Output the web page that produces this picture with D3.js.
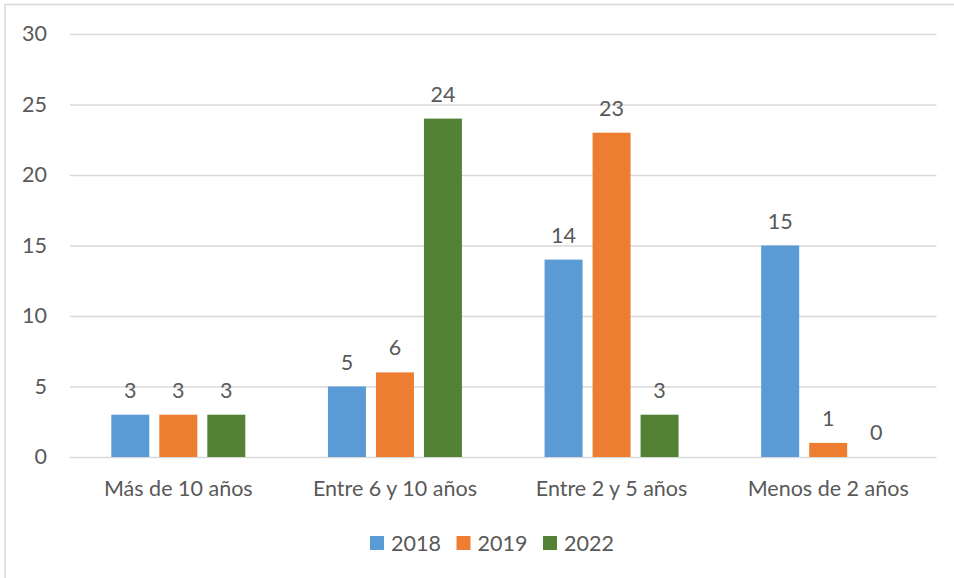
<!DOCTYPE html>
<html>
<head>
<meta charset="utf-8">
<script src="https://cdn.jsdelivr.net/npm/d3@7"></script>
<style>
  body { margin: 0; background: #fff; }
  svg text { font-family: Lato, "Open Sans", sans-serif; fill: #595959; }
</style>
</head>
<body>
<div id="chart"></div>
<script>
const categories = ['Más de 10 años', 'Entre 6 y 10 años', 'Entre 2 y 5 años', 'Menos de 2 años']
const seriesNames = ['2018', '2019', '2022']
const values2018 = [3, 5, 14, 15]
const values2019 = [3, 6, 23, 1]
const values2022 = [3, 24, 3, 0]
const yTicks = [0, 5, 10, 15, 20, 25, 30]
const colors = ['#5B9BD5', '#ED7D31', '#548235']

const seriesValues = [values2018, values2019, values2022]

const width = 954
const height = 578
const fontSize = 21.5

const svg = d3.select('#chart')
  .append('svg')
  .attr('width', width)
  .attr('height', height)

// chart frame
svg.append('rect')
  .attr('x', 5)
  .attr('y', 4.5)
  .attr('width', 960)
  .attr('height', 600)
  .attr('fill', 'none')
  .attr('stroke', '#d9d9d9')
  .attr('stroke-width', 1.5)

const x = d3.scaleBand().domain(categories).range([70, 936.5])
const xInner = d3.scaleBand().domain(seriesNames).range([-67, 67]).paddingInner(10 / 48)
const y = d3.scaleLinear().domain([0, 30]).range([457, 34])

// gridlines + y labels
const yAxis = d3.axisLeft(y)
  .tickValues(yTicks)
  .tickSize(-(936.5 - 70))
  .tickPadding(23)

svg.append('g')
  .attr('transform', 'translate(70,0)')
  .call(yAxis)
  .call(g => g.select('.domain').remove())
  .call(g => g.selectAll('line').attr('stroke', '#d9d9d9').attr('stroke-width', 1.5))
  .call(g => g.selectAll('text')
    .style('font-family', 'Lato, sans-serif')
    .attr('font-size', fontSize)
    .attr('fill', '#595959'))

// x labels
svg.append('g')
  .selectAll('text')
  .data(categories)
  .enter()
  .append('text')
  .attr('x', d => x(d) + x.bandwidth() / 2)
  .attr('y', 496)
  .attr('text-anchor', 'middle')
  .attr('font-size', fontSize)
  .text(d => d)

const rows = []
seriesNames.forEach((s, i) => {
  categories.forEach((c, j) => {
    rows.push({ series: s, category: c, value: seriesValues[i][j], color: colors[i] })
  })
})

const cx = d => x(d.category) + x.bandwidth() / 2 + xInner(d.series)

svg.append('g')
  .selectAll('rect')
  .data(rows)
  .enter()
  .append('rect')
  .attr('x', cx)
  .attr('y', d => y(d.value))
  .attr('width', xInner.bandwidth())
  .attr('height', d => y(0) - y(d.value))
  .attr('fill', d => d.color)

svg.append('g')
  .selectAll('text')
  .data(rows)
  .enter()
  .append('text')
  .attr('x', d => cx(d) + xInner.bandwidth() / 2)
  .attr('y', d => y(d.value) - 17)
  .attr('text-anchor', 'middle')
  .attr('font-size', fontSize)
  .text(d => d.value)

// legend
const legend = svg.append('g')
  .selectAll('g')
  .data(seriesNames)
  .enter()
  .append('g')
  .attr('transform', (d, i) => `translate(${370 + i * 86.5},536)`)

legend.append('rect')
  .attr('width', 14)
  .attr('height', 14)
  .attr('fill', (d, i) => colors[i])

legend.append('text')
  .attr('x', 21)
  .attr('y', 14.5)
  .attr('font-size', fontSize)
  .text(d => d)
</script>
</body>
</html>
